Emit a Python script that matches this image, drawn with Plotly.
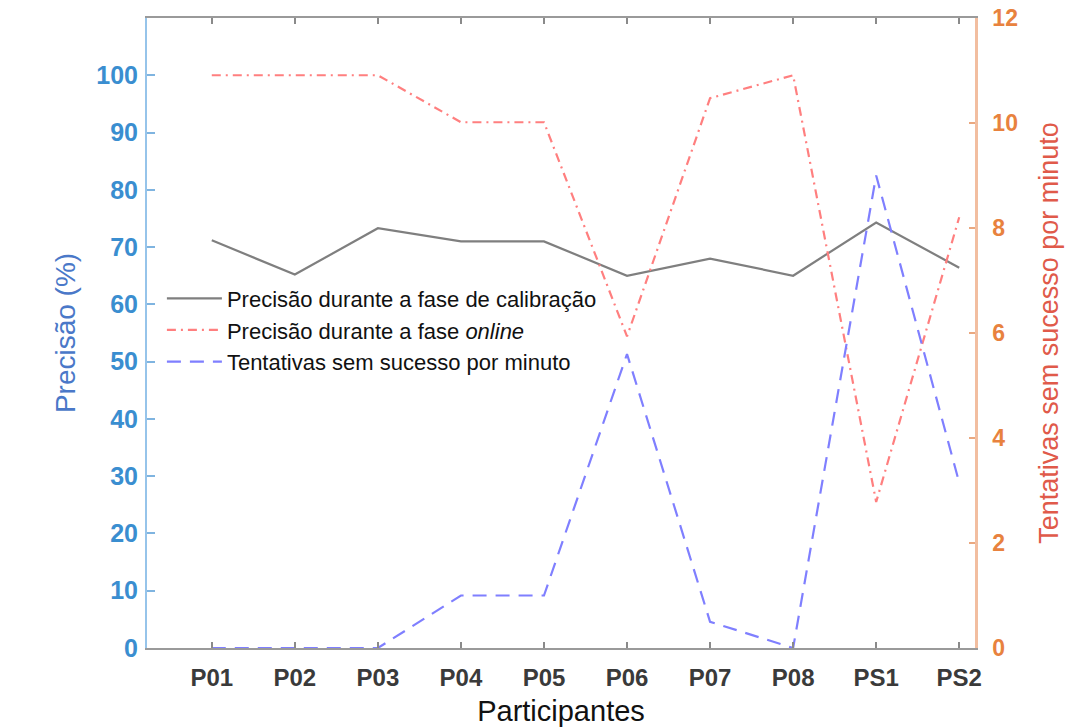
import plotly.graph_objects as go

participants = ["P01", "P02", "P03", "P04", "P05", "P06", "P07", "P08", "PS1", "PS2"]
precisao_calibracao = [71.2, 65.2, 73.3, 71.0, 71.0, 65.0, 68.0, 65.0, 74.3, 66.4]
precisao_online = [100, 100, 100, 91.8, 91.8, 54.4, 96.0, 100, 25.5, 75.2]
tentativas_sem_sucesso = [0, 0, 0, 1.0, 1.0, 5.6, 0.5, 0, 9.0, 3.15]

left_ticks = list(range(0, 101, 10))
right_ticks = list(range(0, 13, 2))

FONT = "Liberation Sans, Arial, sans-serif"

fig = go.Figure()
fig.add_trace(go.Scatter(
    x=participants, y=precisao_calibracao, mode="lines",
    name="Precisão durante a fase de calibração",
    line=dict(color="#7f7f7f", width=2.2),
    legendgroup="a", yaxis="y"))
fig.add_trace(go.Scatter(
    x=participants, y=precisao_online, mode="lines",
    name="Precisão durante a fase <i>online</i>",
    line=dict(color="#ff7f7f", width=2.2, dash="9px,5px,2px,5px"),
    legendgroup="b", yaxis="y"))
fig.add_trace(go.Scatter(
    x=participants, y=tentativas_sem_sucesso, mode="lines",
    name="Tentativas sem sucesso por minuto",
    line=dict(color="#7f7fff", width=2.2, dash="14px,9px"),
    legendgroup="c", yaxis="y2"))

fig.update_layout(
    width=1068, height=727,
    margin=dict(l=147, r=93, t=18, b=79),
    paper_bgcolor="white", plot_bgcolor="white",
    font=dict(family=FONT),
    showlegend=True,
    legend=dict(
        x=0.018, y=0.588, xanchor="left", yanchor="top",
        bgcolor="rgba(255,255,255,1)",
        font=dict(size=22, color="#111111", family=FONT),
        tracegroupgap=0, traceorder="normal",
        itemwidth=55,
    ),
    xaxis=dict(
        type="category", range=[-0.78, 9.19], automargin=False,
        showline=True, linecolor="#9a9a9a", linewidth=2, mirror="ticks",
        ticks="inside", ticklen=6, tickcolor="#8a8a8a", tickwidth=1.5,
        showgrid=False, zeroline=False,
        tickfont=dict(size=24, color="#3a3a3a", family=FONT, weight="bold"),
        ticklabelstandoff=7,
        title=dict(text="Participantes", font=dict(size=29, color="#111111", family=FONT), standoff=12),
    ),
    yaxis=dict(
        range=[0, 110], tickvals=left_ticks, automargin=False,
        showline=True, linecolor="#96c4ea", linewidth=2,
        ticks="inside", ticklen=8, tickcolor="#7fb4e0", tickwidth=1.5,
        showgrid=False, zeroline=False,
        tickfont=dict(size=25, color="#3a8ed0", family=FONT, weight="bold"),
        ticklabelstandoff=2,
        title=dict(text="Precisão (%)", font=dict(size=28, color="#4a78c8", family=FONT), standoff=12),
    ),
    yaxis2=dict(
        range=[0, 12], tickvals=right_ticks, automargin=False,
        overlaying="y", side="right",
        showline=True, linecolor="#f2bea0", linewidth=2.5,
        ticks="inside", ticklen=6, tickcolor="#eaa880", tickwidth=1.5,
        showgrid=False, zeroline=False,
        tickfont=dict(size=23, color="#e8823e", family=FONT, weight="bold"),
        ticklabelstandoff=10,
        title=dict(text="Tentativas sem sucesso por minuto", font=dict(size=27, color="#e05a4a", family=FONT), standoff=23),
    ),
)

fig.write_html("out.html")
